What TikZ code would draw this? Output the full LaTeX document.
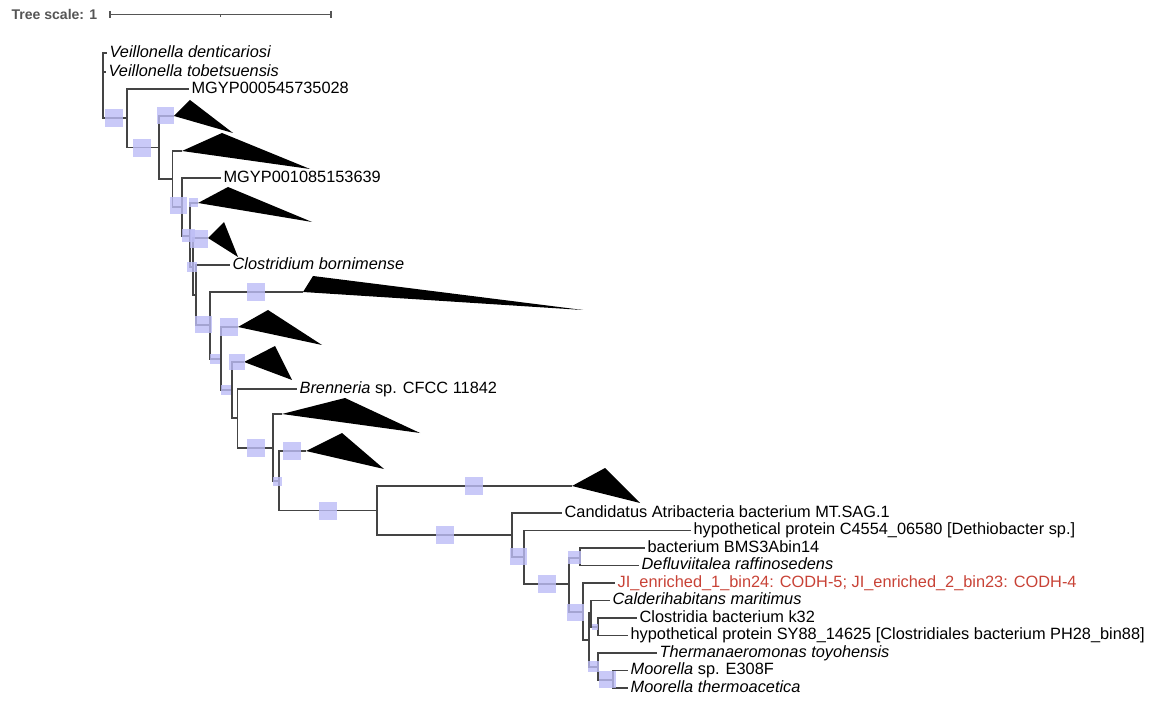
\documentclass[tikz,border=0pt]{standalone}
\usepackage{fontspec}
\setmainfont{Liberation Sans}
\usepackage{xcolor}
\usepackage{tikz}

\definecolor{branchgray}{RGB}{68,68,68}
\definecolor{bsblue}{RGB}{188,188,246}
\definecolor{jired}{RGB}{200,66,54}
\definecolor{scalegray}{RGB}{85,85,85}

% support box on a branch: centre x, centre y, size (px)
\newcommand{\bsbox}[3]{\fill[bsblue, fill opacity=0.8] ({#1-#3/2},{#2-#3/2}) rectangle ++(#3,#3);}

\begin{document}
\begin{tikzpicture}[x=0.02cm, y=-0.02cm, line width=0.6pt,
    leaf/.style={anchor=west, inner xsep=1.2pt, inner ysep=0pt, text height=6.5pt, text depth=1.6pt,
        font=\fontsize{9.3}{11}\selectfont},
    branch/.style={draw=branchgray}]
    \useasboundingbox (0,0) rectangle (1156,702);

    % 1. Tree scale
    \node[anchor=west, inner sep=0pt, text=scalegray, font=\bfseries\fontsize{8}{10}\selectfont] (ts) at (11,14.5) {Tree scale: 1};
    \coordinate (sbl) at (110,14.5);
    \coordinate (sbm) at (220.5,14.5);
    \coordinate (sbr) at (331,14.5);
    \draw[scalegray, line width=0.7pt] (sbl) -- (sbr);
    \draw[scalegray, line width=0.7pt] (sbl) ++(0,-3.5) -- ++(0,7) (sbr) ++(0,-3.5) -- ++(0,7);
    \draw[scalegray, line width=0.5pt] (sbm) -- ++(0,2.5);

    % 2. Inner nodes
    \coordinate (n0) at (103,85);
    \coordinate (n1) at (127,118);
    \coordinate (n2) at (159,147.5);
    \coordinate (n3) at (172.5,179);
    \coordinate (n4) at (182,207);
    \coordinate (n5) at (190,236);
    \coordinate (n6) at (193,267);
    \coordinate (n7) at (196,295);
    \coordinate (n8) at (210,325);
    \coordinate (n9) at (221,359);
    \coordinate (n10) at (232,390);
    \coordinate (n11) at (237.5,418);
    \coordinate (n12) at (273,448);
    \coordinate (n13) at (279,481);
    \coordinate (n14) at (377,510.5);
    \coordinate (n15) at (512,535);
    \coordinate (n16) at (524,557);
    \coordinate (n17) at (569,584);
    \coordinate (n18) at (580,558);
    \coordinate (n19) at (583,612);
    \coordinate (n20) at (589,640);
    \coordinate (n21) at (591,613);
    \coordinate (n22) at (598,627);
    \coordinate (n23) at (598,667);
    \coordinate (n24) at (613,680);

    % 3. Apexes of the collapsed clades
    \coordinate (c1) at (174,116);
    \coordinate (c2) at (182,151);
    \coordinate (c3) at (198,203);
    \coordinate (c4) at (208,238);
    \coordinate (c5) at (303,292);
    \coordinate (c6) at (238,327);
    \coordinate (c7) at (244,362);
    \coordinate (c8) at (282,414);
    \coordinate (c9) at (306,451);
    \coordinate (c10) at (572,486);

    % 4. Leaves
    \node[leaf] (vd) at (107,53) {\textit{Veillonella denticariosi}};
    \node[leaf] (vt) at (106,72) {\textit{Veillonella tobetsuensis}};
    \node[leaf] (mgypa) at (189,89) {MGYP000545735028};
    \node[leaf] (mgypb) at (221,178) {MGYP001085153639};
    \node[leaf] (clos) at (230,265) {\textit{Clostridium bornimense}};
    \node[leaf] (bren) at (297,389) {\textit{Brenneria} sp. CFCC 11842};
    \node[leaf] (cand) at (562,513) {Candidatus Atribacteria bacterium MT.SAG.1};
    \node[leaf] (dethio) at (691,530.5) {hypothetical protein C4554\_06580 [Dethiobacter sp.]};
    \node[leaf] (bms) at (645,548) {bacterium BMS3Abin14};
    \node[leaf] (deflu) at (639,565.5) {\textit{Defluviitalea raffinosedens}};
    \node[leaf, text=jired] (ji) at (615,583) {JI\_enriched\_1\_bin24: CODH-5; JI\_enriched\_2\_bin23: CODH-4};
    \node[leaf] (calder) at (610,600.5) {\textit{Calderihabitans maritimus}};
    \node[leaf] (kxx) at (637,618) {Clostridia bacterium k32};
    \node[leaf] (sy) at (628,635.5) {hypothetical protein SY88\_14625 [Clostridiales bacterium PH28\_bin88]};
    \node[leaf] (therm) at (657,653) {\textit{Thermanaeromonas toyohensis}};
    \node[leaf] (moosp) at (628,670.5) {\textit{Moorella} sp. E308F};
    \node[leaf] (moot) at (628,688) {\textit{Moorella thermoacetica}};

    % 5. Branches
    \draw[branch] (n0) |- (vd.west) (n0) |- (vt.west) (n0) |- (n1);
    \draw[branch] (n1) |- (mgypa.west) (n1) |- (n2);
    \draw[branch] (n2) |- (c1) (n2) |- (n3);
    \draw[branch] (n3) |- (c2) (n3) |- (n4);
    \draw[branch] (n4) |- (mgypb.west) (n4) |- (n5);
    \draw[branch] (n5) |- (c3) (n5) |- (n6);
    \draw[branch] (n6) |- (c4) (n6) |- (n7);
    \draw[branch] (n7) |- (clos.west) (n7) |- (n8);
    \draw[branch] (n8) |- (c5) (n8) |- (n9);
    \draw[branch] (n9) |- (c6) (n9) |- (n10);
    \draw[branch] (n10) |- (c7) (n10) |- (n11);
    \draw[branch] (n11) |- (bren.west) (n11) |- (n12);
    \draw[branch] (n12) |- (c8) (n12) |- (n13);
    \draw[branch] (n13) |- (c9) (n13) |- (n14);
    \draw[branch] (n14) |- (c10) (n14) |- (n15);
    \draw[branch] (n15) |- (cand.west) (n15) |- (n16);
    \draw[branch] (n16) |- (dethio.west) (n16) |- (n17);
    \draw[branch] (n17) |- (n18) (n17) |- (n19);
    \draw[branch] (n18) |- (bms.west) (n18) |- (deflu.west);
    \draw[branch] (n19) |- (ji.west) (n19) |- (n20);
    \draw[branch] (n20) |- (n21) (n20) |- (n23);
    \draw[branch] (n21) |- (calder.west) (n21) |- (n22);
    \draw[branch] (n22) |- (kxx.west) (n22) |- (sy.west);
    \draw[branch] (n23) |- (therm.west) (n23) |- (n24);
    \draw[branch] (n24) |- (moosp.west) (n24) |- (moot.west);

    % 6. Collapsed clades
    \fill (c1) -- (190,100) -- (233,133) -- cycle;
    \fill (c2) -- (222,133) -- (310,169) -- cycle;
    \fill (c3) -- (228,187) -- (312,222) -- cycle;
    \fill (c4) -- (224,222) -- (238,257) -- cycle;
    \fill (c5) -- (313,276) -- (583,310) -- cycle;
    \fill (c6) -- (268,310) -- (322,345) -- cycle;
    \fill (c7) -- (275,346) -- (292,380) -- cycle;
    \fill (c8) -- (345,398) -- (420,433) -- cycle;
    \fill (c9) -- (342,433) -- (384,469) -- cycle;
    \fill (c10) -- (605,468) -- (640,503) -- cycle;

    % 7. Support boxes
    \bsbox{114}{118}{18}
    \bsbox{142}{148}{18}
    \bsbox{165}{116}{17}
    \bsbox{178}{206}{17}
    \bsbox{188}{236}{13}
    \bsbox{193}{203}{9}
    \bsbox{199}{239}{18}
    \bsbox{192}{267}{10}
    \bsbox{256}{292}{18}
    \bsbox{203}{325}{17}
    \bsbox{229}{327}{18}
    \bsbox{215}{359}{10}
    \bsbox{237}{362}{16}
    \bsbox{226}{390}{10}
    \bsbox{256}{448}{18}
    \bsbox{292}{451}{18}
    \bsbox{277}{481}{9}
    \bsbox{328}{511}{18}
    \bsbox{474}{486}{18}
    \bsbox{445}{535}{18}
    \bsbox{518}{556}{17}
    \bsbox{547}{584}{18}
    \bsbox{574}{557}{13}
    \bsbox{575}{612}{17}
    \bsbox{595}{627}{6}
    \bsbox{593}{666}{11}
    \bsbox{607}{679}{17}
\end{tikzpicture}
\end{document}
